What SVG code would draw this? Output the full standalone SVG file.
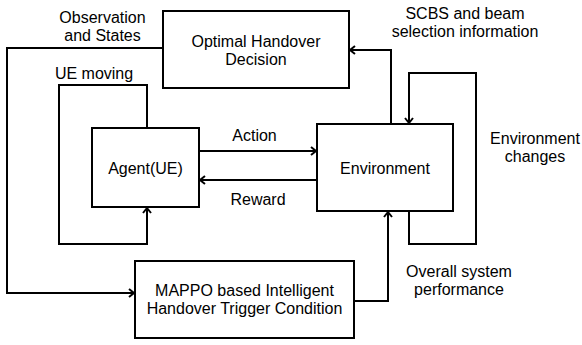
<svg xmlns="http://www.w3.org/2000/svg" width="582" height="345" viewBox="0 0 582 345">
<style>
.box{fill:#fff;stroke:#000;stroke-width:2}
.c{fill:none;stroke:#000;stroke-width:2}
text{font-family:"Liberation Sans",Arial,sans-serif;font-size:16px;fill:#000;text-anchor:middle}
</style>
<defs>
<marker id="arr" markerUnits="userSpaceOnUse" markerWidth="12" markerHeight="12" viewBox="-7 -6 8 12" refX="0" refY="0" orient="auto">
<path d="M-5,-4 L0,0 L-5,4" fill="none" stroke="#000" stroke-width="2"/>
</marker>
</defs>
<rect width="582" height="345" fill="#fff"/>
<g id="connectors">
<path class="c" d="M163,48 H7 V293 H134" marker-end="url(#arr)"/>
<path class="c" d="M147,128 V85 H59 V244 H147 V208" marker-end="url(#arr)"/>
<path class="c" d="M199,151 H316" marker-end="url(#arr)"/>
<path class="c" d="M317,180 H200" marker-end="url(#arr)"/>
<path class="c" d="M391,124 V50 H350" marker-end="url(#arr)"/>
<path class="c" d="M409,211 V244 H476 V73 H409 V123" marker-end="url(#arr)"/>
<path class="c" d="M354,301 H388 V212" marker-end="url(#arr)"/>
<text x="102.5" y="22.7">Observation</text>
<text x="102.5" y="40.7">and States</text>
<text x="94" y="78.5">UE moving</text>
<text x="465" y="19">SCBS and beam</text>
<text x="465" y="37">selection information</text>
<text x="254.5" y="141">Action</text>
<text x="258" y="205">Reward</text>
<text x="535" y="144">Environment</text>
<text x="535" y="162">changes</text>
<text x="459" y="277">Overall system</text>
<text x="459" y="295">performance</text>
</g>
<g id="optimal">
<rect class="box" x="163" y="11" width="186" height="77"/>
<text x="256" y="47">Optimal Handover</text>
<text x="256" y="65">Decision</text>
</g>
<g id="agent">
<rect class="box" x="92" y="128" width="107" height="79"/>
<text x="145.5" y="174">Agent(UE)</text>
</g>
<g id="environment">
<rect class="box" x="317" y="124" width="136" height="87"/>
<text x="385" y="173.5">Environment</text>
</g>
<g id="mappo">
<rect class="box" x="135" y="261" width="219" height="77"/>
<text x="244.5" y="296">MAPPO based Intelligent</text>
<text x="244.5" y="314">Handover Trigger Condition</text>
</g>
</svg>
